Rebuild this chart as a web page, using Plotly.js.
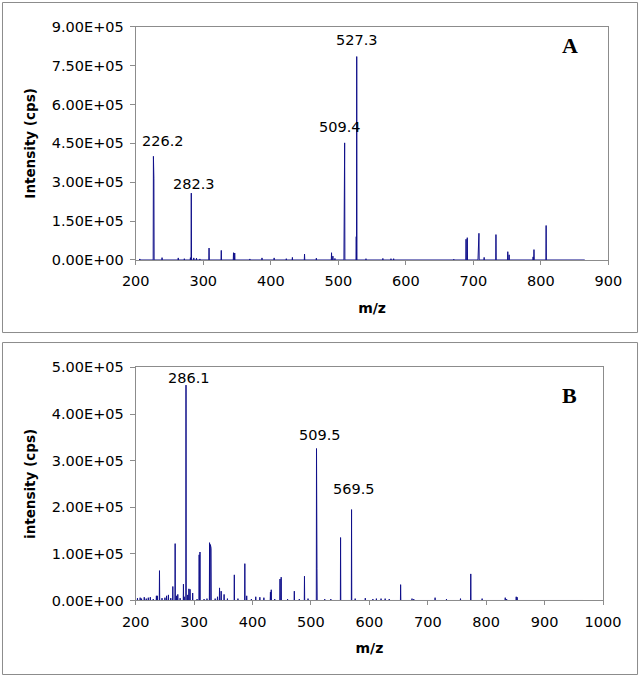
<!DOCTYPE html>
<html>
<head>
<meta charset="utf-8">
<script src="https://cdn.plot.ly/plotly-3.0.1.min.js"></script>
<style>html,body{margin:0;padding:0;background:#fff;}#chart{width:639px;height:676px;}</style>
</head>
<body>
<div id="chart"></div>
<script>
// ---------- Panel A data (m/z, intensity in cps) ----------
const mzA = [206, 226.2, 226.9, 239, 263, 272, 281, 282.3, 286, 290, 295,
  308.6, 326.7, 344.8, 346.6, 369, 387, 405, 423, 432, 450, 467.5,
  490, 492, 495, 508.7, 509.4, 526.6, 527.3, 541, 566, 578, 582, 671,
  689.2, 691, 707.2, 708.3, 716, 733.5, 751, 753, 788.5, 789.8, 807.8];
const intA = [4e3, 4.0e5, 3.15e5, 9e3, 8e3, 5e3, 9e3, 2.58e5, 8e3, 7e3, 4e3,
  4.6e4, 3.7e4, 2.8e4, 2.7e4, 4e3, 8e3, 8e3, 5e3, 1e4, 2.3e4, 7e3,
  2.8e4, 1.5e4, 6e3, 2.8e5, 4.52e5, 9e4, 7.85e5, 5e3, 6e3, 5e3, 5e3, 3e3,
  8e4, 8.6e4, 3e4, 1.03e5, 1e4, 9.8e4, 3.2e4, 2e4, 1.2e4, 4e4, 1.33e5];
const baseA = [205, 865];
const labelsA = ["226.2", "282.3", "509.4", "527.3"];
const labelPeaksA = [226.2, 282.3, 509.4, 527.3];
const ticksAy = [0, 1.5e5, 3e5, 4.5e5, 6e5, 7.5e5, 9e5];
const tickTextAy = ["0.00E+00", "1.50E+05", "3.00E+05", "4.50E+05", "6.00E+05", "7.50E+05", "9.00E+05"];
const ticksAx = [200, 300, 400, 500, 600, 700, 800, 900];

// ---------- Panel B data ----------
const mzB = [203, 207.6, 210, 214.6, 218, 221.5, 225, 230, 235.4, 237,
  240.7, 245, 250, 252.8, 256, 260, 263.5, 267.5, 270, 272,
  276, 281.7, 283, 286.1, 289, 291, 293, 297.5, 305, 308.6,
  310, 317, 322, 326.4, 327.8, 329, 336, 340, 343.5, 346.3,
  351.3, 357, 368.8, 375, 386.8, 390, 398, 405.5, 412.5, 419.4,
  430.6, 432, 438, 447, 449, 460, 471.5, 480, 488.9, 495,
  509.5, 510.3, 523.6, 534, 550.7, 569.5, 575.7, 593, 606, 612,
  620, 627, 634, 653.5, 673, 676, 712.5, 732, 756, 773.6,
  793, 832.6, 835, 851.4, 853];
const intB = [5e3, 6e3, 4e3, 7e3, 4e3, 6e3, 7e3, 3e3, 1e4, 1e4,
  6.4e4, 5e3, 6e3, 1e4, 1.2e4, 5e3, 3e4, 1.22e5, 1e4, 1.3e4,
  5e3, 3.5e4, 8e3, 4.62e5, 1.2e4, 2.5e4, 2.4e4, 1.6e4, 3e3, 9.8e4,
  1.04e5, 3e3, 4e3, 1.24e5, 1.2e5, 1.12e5, 4e3, 8e3, 2.7e4, 2e4,
  1.3e4, 4e3, 5.5e4, 4e3, 7.9e4, 1e4, 3e3, 8e3, 7e3, 6e3,
  1.8e4, 2.3e4, 3e3, 4.6e4, 5e4, 3e3, 2e4, 3e3, 5.2e4, 4e3,
  3.26e5, 6.8e4, 3e3, 3e3, 1.35e5, 1.95e5, 4e3, 5e3, 3e3, 4e3,
  4e3, 4e3, 3e3, 3.4e4, 4e3, 3e3, 6e3, 3e3, 4e3, 5.7e4,
  4e3, 6e3, 3e3, 8e3, 7e3];
const baseB = [200, 966];
const labelsB = ["286.1", "509.5", "569.5"];
const labelPeaksB = [286.1, 509.5, 569.5];
const ticksBy = [0, 1e5, 2e5, 3e5, 4e5, 5e5];
const tickTextBy = ["0.00E+00", "1.00E+05", "2.00E+05", "3.00E+05", "4.00E+05", "5.00E+05"];
const ticksBx = [200, 300, 400, 500, 600, 700, 800, 900, 1000];

// ---------- build stick spectra ----------
function sticks(mz, inten, base) {
  const xs = [base[0]], ys = [0];
  for (let i = 0; i < mz.length; i++) {
    xs.push(mz[i] - 0.35, mz[i], mz[i] + 0.35);
    ys.push(0, inten[i], 0);
  }
  xs.push(base[1]); ys.push(0);
  return {xs, ys};
}
const sA = sticks(mzA, intA, baseA);
const sB = sticks(mzB, intB, baseB);
const lineColor = '#10108a';

const traces = [
  {x: sA.xs, y: sA.ys, type: 'scatter', mode: 'lines', xaxis: 'x', yaxis: 'y',
   line: {color: lineColor, width: 1}, hoverinfo: 'x+y'},
  {x: sB.xs, y: sB.ys, type: 'scatter', mode: 'lines', xaxis: 'x2', yaxis: 'y2',
   line: {color: lineColor, width: 1}, hoverinfo: 'x+y'}
];

const numFont = {family: 'DejaVu Sans, Arial, sans-serif', size: 14.5, color: '#000'};
const titleFont = {family: 'DejaVu Sans, Arial, sans-serif', size: 13.5, color: '#000', weight: 'bold'};
const axisCommon = {
  showgrid: false, zeroline: false, showline: true, linecolor: '#8c8c8c', linewidth: 1,
  mirror: true, ticks: 'outside', tickcolor: '#8c8c8c', tickfont: numFont, fixedrange: true
};

function peakVal(mz, inten, m) { return inten[mz.indexOf(m)]; }
const shiftsA = [[9.6, 15.7], [2.3, 9.1], [-5, 16.3], [0, 16.6]];
const shiftsB = [[3.3, 7.3], [3.9, 14], [2.9, 21]];
const annotations = [];
labelsA.forEach((t, i) => annotations.push({
  text: t, x: labelPeaksA[i], y: peakVal(mzA, intA, labelPeaksA[i]), xref: 'x', yref: 'y',
  showarrow: false, xanchor: 'center', yanchor: 'middle',
  xshift: shiftsA[i][0], yshift: shiftsA[i][1], font: numFont}));
labelsB.forEach((t, i) => annotations.push({
  text: t, x: labelPeaksB[i], y: peakVal(mzB, intB, labelPeaksB[i]), xref: 'x2', yref: 'y2',
  showarrow: false, xanchor: 'center', yanchor: 'middle',
  xshift: shiftsB[i][0], yshift: shiftsB[i][1], font: numFont}));
const letterFont = {family: 'Liberation Serif, Times New Roman, serif', size: 22, color: '#000', weight: 'bold'};
annotations.push({text: 'A', x: 0.892, y: 0.9324, xref: 'paper', yref: 'paper', showarrow: false,
  xanchor: 'center', yanchor: 'middle', font: letterFont});
annotations.push({text: 'B', x: 0.892, y: 0.4150, xref: 'paper', yref: 'paper', showarrow: false,
  xanchor: 'center', yanchor: 'middle', font: letterFont});

const layout = {
  width: 639, height: 676,
  margin: {l: 0, r: 0, t: 0, b: 0, pad: 0},
  paper_bgcolor: '#fff', plot_bgcolor: '#fff',
  showlegend: false,
  xaxis: Object.assign({}, axisCommon, {
    domain: [0.2124, 0.9521], anchor: 'y', range: [200, 900],
    tickvals: ticksAx, ticklen: 4, ticklabelstandoff: 4,
    title: {text: 'm/z', font: Object.assign({}, titleFont, {size: 14}), standoff: 14}
  }),
  yaxis: Object.assign({}, axisCommon, {
    domain: [0.6154, 0.9604], anchor: 'x', range: [0, 9e5],
    tickvals: ticksAy, ticktext: tickTextAy, ticklen: 5, ticklabelstandoff: 3,
    title: {text: 'Intensity (cps)', font: titleFont, standoff: 13}
  }),
  xaxis2: Object.assign({}, axisCommon, {
    domain: [0.2124, 0.9437], anchor: 'y2', range: [200, 1000],
    tickvals: ticksBx, ticklen: 4, ticklabelstandoff: 4,
    title: {text: 'm/z', font: Object.assign({}, titleFont, {size: 14}), standoff: 14}
  }),
  yaxis2: Object.assign({}, axisCommon, {
    domain: [0.1117, 0.4565], anchor: 'x2', range: [0, 5e5],
    tickvals: ticksBy, ticktext: tickTextBy, ticklen: 5, ticklabelstandoff: 3,
    title: {text: 'intensity (cps)', font: titleFont, standoff: 13}
  }),
  shapes: [
    {type: 'rect', xref: 'paper', yref: 'paper', x0: 0.0039, x1: 0.9977, y0: 0.5081, y1: 0.9963,
     line: {color: '#8c8c8c', width: 1}, fillcolor: 'rgba(0,0,0,0)', layer: 'below'},
    {type: 'rect', xref: 'paper', yref: 'paper', x0: 0.0039, x1: 0.9977, y0: 0.0022, y1: 0.4933,
     line: {color: '#8c8c8c', width: 1}, fillcolor: 'rgba(0,0,0,0)', layer: 'below'}
  ],
  annotations: annotations
};

Plotly.newPlot('chart', traces, layout, {displayModeBar: false, staticPlot: true});
</script>
</body>
</html>
